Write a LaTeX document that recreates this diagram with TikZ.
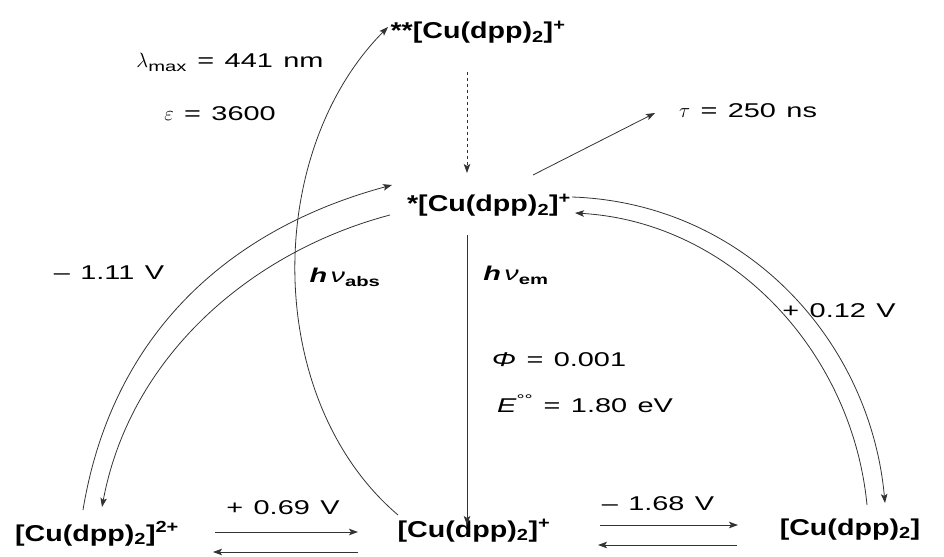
\documentclass[tikz,border=0pt]{standalone}
\usepackage{fontspec}
\setmainfont{Liberation Sans}[FakeStretch=1.25]
\newfontfamily\lblfont{Liberation Sans}[FakeStretch=1.45,WordSpace=1.3]
\usetikzlibrary{arrows.meta}
\newcommand\cpd{[Cu(dpp)\textsubscript{2}]}
\begin{document}
\begin{tikzpicture}[x=1bp,y=-1bp,
  ln/.style={line width=0.8bp, draw=black!80},
  arr/.style={ln, -{Stealth[length=9bp,width=6.5bp,inset=2bp]}},
  cpx/.style={font=\fontsize{23}{26}\selectfont\bfseries, inner sep=0pt, anchor=base},
  lbl/.style={font=\lblfont\fontsize{20}{23}\selectfont, inner sep=0pt, anchor=base}]
\useasboundingbox (0,0) rectangle (944,557);
% complexes
\node[cpx] (ss) at (478,39) {**\cpd\textsuperscript{+}};
\node[cpx] (s) at (489,212) {*\cpd\textsuperscript{+}};
\node[cpx] (g) at (474,537) {\cpd\textsuperscript{+}};
\node[cpx] (ox) at (97,541) {\cpd\textsuperscript{2+}};
\node[cpx] (red) at (850,535) {\cpd};
% labels
\node[lbl] (lam) at (230,68) {$\lambda$\textsubscript{max} = 441 nm};
\node[lbl] (eps) at (220,121) {$\varepsilon$ = 3600};
\node[lbl] (tau) at (748,118) {$\tau$ = 250 ns};
\node[lbl] (phi) at (559,367) {\textit{Φ} =  0.001};
\node[lbl] (en) at (585,412) {\textit{E}\textsuperscript{°°} = 1.80 eV};
\node[lbl] (habs) at (345,283) {\textbf{\textit{h}}\,\textit{ν}\textsubscript{\textbf{abs}}};
\node[lbl] (hem) at (516,281) {\textbf{\textit{h}}\,\textit{ν}\textsubscript{\textbf{em}}};
\node[lbl] (v1) at (109,280) {– 1.11 V};
\node[lbl] (v2) at (839,318) {+ 0.12 V};
\node[lbl] (v3) at (283,514) {+ 0.69 V};
\node[lbl] (v4) at (658,510) {– 1.68 V};
% coordinates
\coordinate (d1) at (467,72);  \coordinate (d2) at (467,173);
\coordinate (e1) at (467,235); \coordinate (e2) at (467,525);
\coordinate (t1) at (533,175); \coordinate (t2) at (655,113);
\coordinate (a1) at (398,515); \coordinate (a2) at (388,27);
\coordinate (b1) at (215,532); \coordinate (b2) at (358,532);
\coordinate (b3) at (358,552); \coordinate (b4) at (213,552);
\coordinate (c1) at (600,525); \coordinate (c2) at (738,525);
\coordinate (c3) at (737,545); \coordinate (c4) at (598,545);
\coordinate (lo1) at (83,510); \coordinate (lo2) at (392,185);
\coordinate (li1) at (390,215); \coordinate (li2) at (102,507);
\coordinate (ro1) at (572,197); \coordinate (ro2) at (885,503);
\coordinate (ri1) at (867,505); \coordinate (ri2) at (575,213);
% connectors
\draw[arr, dash pattern=on 3bp off 3bp] (d1) -- (d2);
\draw[arr] (e1) -- (e2);
\draw[arr] (t1) -- (t2);
\draw[arr] (a1) .. controls (263,400) and (263,153) .. (a2);
\draw[arr] (b1) -- (b2);
\draw[arr] (b3) -- (b4);
\draw[arr] (c1) -- (c2);
\draw[arr] (c3) -- (c4);
\draw[arr] (lo1) .. controls (111,340) and (222,231) .. (lo2);
\draw[arr] (li1) .. controls (250,252) and (130,357) .. (li2);
\draw[arr] (ro1) .. controls (745,203) and (870,340) .. (ro2);
\draw[arr] (ri1) .. controls (852,350) and (730,222) .. (ri2);
\end{tikzpicture}
\end{document}
